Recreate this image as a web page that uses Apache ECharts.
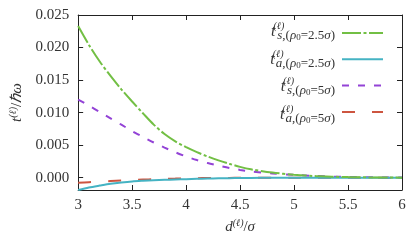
<!DOCTYPE html>
<html><head><meta charset="utf-8">
<script src="https://cdn.jsdelivr.net/npm/echarts@6/dist/echarts.min.js"></script>
<style>html,body{margin:0;padding:0;background:#fff}#c{width:415px;height:240px}</style>
</head><body><div id="c"></div>
<script>
var xs = [3.0,3.1,3.2,3.3,3.4,3.5,3.6,3.7,3.8,3.9,4.0,4.1,4.2,4.3,4.4,4.5,4.6,4.8,5.0,5.2,5.5,6.0];
var tS25 = [0.0233,0.0204,0.01785,0.01564,0.01358,0.0117,0.0099,0.00815,0.0067,0.00558,0.00468,0.00392,0.00325,0.00266,0.00213,0.00165,0.00128,0.00078,0.00045,0.00024,0.00008,0.0];
var tA25 = [-0.0019,-0.00152,-0.00122,-0.00094,-0.00074,-0.00058,-0.00048,-0.0004,-0.00034,-0.00028,-0.00023,-0.00018,-0.00014,-0.00011,-0.00008,-0.00006,-0.00004,-0.00002,-0.00001,0,0,0];
var tS5 = [0.0120,0.01107,0.0101,0.00912,0.00814,0.00716,0.00625,0.0054,0.00462,0.0039,0.00325,0.0027,0.00224,0.00185,0.00149,0.00119,0.00096,0.00065,0.00042,0.00025,0.0001,0.00001];
var tA5 = [-0.0008,-0.0007,-0.00062,-0.00053,-0.00045,-0.00037,-0.0003,-0.00024,-0.00018,-0.00014,-0.0001,-0.00008,-0.00006,-0.00005,-0.00004,-0.00003,-0.00002,-0.00001,0,0,0,0];
var xTicks = [3,3.5,4,4.5,5,5.5,6];
var yTicks = [0,0.005,0.010,0.015,0.020,0.025];
var seriesNames = ['tS25','tA25','tS5','tA5'];
var legendSubs = ['{i|s},({i|ρ}{s|0}=2.5{i|σ})','{i|a},({i|ρ}{s|0}=2.5{i|σ})','{i|s},({i|ρ}{s|0}=5{i|σ})','{i|a},({i|ρ}{s|0}=5{i|σ})'];
var colors = ['#72bf44','#45b3c3','#9343d6','#cd5540'];
var dashes = [[19,2.5,3,2.5],'solid',[7,9],[13,17]];

function pairs(ys){ return xs.map(function(x,i){ return [x, ys[i]]; }); }
var F = 'Liberation Serif';
var axisCol = '#222';
var txtCol = '#333';
var richName = {
  i:{fontFamily:F,fontStyle:'italic',fontSize:15,color:txtCol},
  n:{fontFamily:F,fontSize:15,color:txtCol},
  sup:{fontFamily:F,fontStyle:'italic',fontSize:10,color:txtCol,verticalAlign:'top',padding:[0,0,8,0]}
};
function mkAxis(type, pos, show){
  var isX = type==='x';
  return {
    type:'value', position: pos,
    min: isX ? 3 : -0.0019, max: isX ? 6 : 0.025,
    axisLine:{show:true,onZero:false,lineStyle:{color:axisCol,width:1}},
    axisTick:{show:true,inside:true,length:5,customValues: isX?xTicks:yTicks,lineStyle:{color:axisCol}},
    axisLabel:{show:show,customValues: isX?xTicks:yTicks,fontFamily:F,fontSize:15,color:txtCol,margin: isX?8:9,
      formatter: function(v){ return isX ? String(v) : v.toFixed(3); }},
    splitLine:{show:false}
  };
}
var xA = mkAxis('x','bottom',true);
xA.name = '{i|d}{sup|(ℓ)}{n|/}{i|σ}';
xA.nameLocation='middle'; xA.nameGap = 27; xA.nameTextStyle={rich:richName};
var yA = mkAxis('y','left',true);
yA.name = '{i|t}{sup|(ℓ)}{n|/}{i|ℏω}';
yA.nameLocation='middle'; yA.nameGap = 50; yA.nameTextStyle={rich:richName};

var data = [tS25,tA25,tS5,tA5];
var series = data.map(function(d,k){
  return {name:seriesNames[k], type:'line', symbol:'none', smooth:0.3, data:pairs(d),
    xAxisIndex:0,yAxisIndex:0,
    lineStyle:{color:colors[k],width:2,type:dashes[k]}, itemStyle:{color:colors[k]}, z: 10-k};
});

// legend label texts (drawn next to the legend icons)
var rowY = [33,61,88,116];
var subFs = 13, zeroFs = 9;
var subRich = {
  i:{fontFamily:F,fontStyle:'italic',fontSize:subFs,color:txtCol},
  s:{fontFamily:F,fontSize:zeroFs,color:txtCol,verticalAlign:'bottom'}
};
var ctx = document.createElement('canvas').getContext('2d');
function w(txt,font){ ctx.font = font; return ctx.measureText(txt).width; }
var subRight = 335;
var graphics = [];
legendSubs.forEach(function(sub,k){
  var y = rowY[k];
  var plain = sub.replace(/\{[a-z]\|([^}]*)\}/g,'$1');
  var sw = w(plain.replace('0',''), subFs+'px "'+F+'"') + w('0', zeroFs+'px "'+F+'"');
  var left = subRight - sw;
  graphics.push({type:'text', x: subRight, y: y+3, silent:true,
    style:{text:sub, rich:subRich, fontFamily:F, fontSize:subFs, fill:txtCol, align:'right', verticalAlign:'middle'}});
  graphics.push({type:'text', x: left-1, y: y-1, silent:true,
    style:{text:'t', fontFamily:F, fontStyle:'italic', fontSize:16, fill:txtCol, align:'right', verticalAlign:'middle'}});
  graphics.push({type:'text', x: left-3, y: y-6.5, silent:true,
    style:{text:'(ℓ)', fontFamily:F, fontStyle:'italic', fontSize:10, fill:txtCol, align:'left', verticalAlign:'middle'}});
});

var chart = echarts.init(document.getElementById('c'), null, {renderer:'canvas'});
chart.setOption({
  animation:false,
  grid:{left:70,right:13,top:15,bottom:50,containLabel:false},
  xAxis:[xA, mkAxis('x','top',false)],
  yAxis:[yA, mkAxis('y','right',false)],
  legend:{orient:'vertical',right:31,top:26,padding:0,itemWidth:41,itemHeight:14,itemGap:13.7,align:'right',
    itemStyle:{opacity:0},
    formatter:function(){return '';}, textStyle:{fontSize:1}, data:seriesNames, selectedMode:false},
  series:series,
  graphic: graphics
});
</script></body></html>
